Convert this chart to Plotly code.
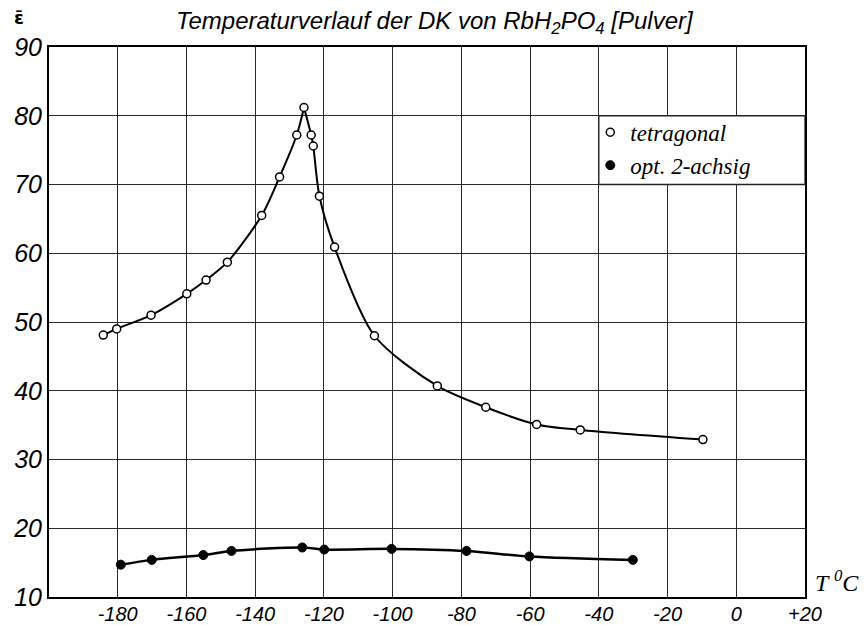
import plotly.graph_objects as go

# --- data ---
t_tetragonal = [-184.2, -180.3, -170.3, -159.9, -154.3, -148.1, -138.1, -132.9, -127.9,
                -125.8, -123.7, -123.1, -121.3, -116.9, -105.3, -87.0, -72.9, -58.1, -45.4, -9.7]
eps_tetragonal = [48.1, 49.0, 51.0, 54.1, 56.1, 58.7, 65.5, 71.1, 77.2,
                  81.2, 77.2, 75.6, 68.3, 60.9, 48.0, 40.7, 37.6, 35.1, 34.3, 32.9]

t_opt = [-179.1, -170.1, -155.1, -146.9, -126.3, -119.9, -100.3, -78.5, -60.2, -30.1]
eps_opt = [14.7, 15.4, 16.1, 16.7, 17.2, 16.9, 17.0, 16.7, 15.9, 15.4]

x_tickvals = [-180, -160, -140, -120, -100, -80, -60, -40, -20, 0, 20]
x_ticktext = ["-180", "-160", "-140", "-120", "-100", "-80", "-60", "-40", "-20", "0", "+20"]
y_tickvals = [10, 20, 30, 40, 50, 60, 70, 80, 90]
y_ticktext = ["10", "20", "30", "40", "50", "60", "70", "80", "90"]

peak = eps_tetragonal.index(max(eps_tetragonal))

fig = go.Figure()

# smooth curves (two branches meeting in a cusp at the peak)
fig.add_trace(go.Scatter(x=t_tetragonal[:peak + 1], y=eps_tetragonal[:peak + 1],
                         mode="lines", line=dict(color="black", width=2, shape="spline", smoothing=0.8),
                         showlegend=False, hoverinfo="skip"))
fig.add_trace(go.Scatter(x=t_tetragonal[peak:], y=eps_tetragonal[peak:],
                         mode="lines", line=dict(color="black", width=2, shape="spline", smoothing=0.8),
                         showlegend=False, hoverinfo="skip"))
fig.add_trace(go.Scatter(x=t_opt, y=eps_opt,
                         mode="lines", line=dict(color="black", width=2.5, shape="spline", smoothing=0.8),
                         showlegend=False, hoverinfo="skip"))

# markers
fig.add_trace(go.Scatter(x=t_tetragonal, y=eps_tetragonal, mode="markers", name="tetragonal",
                         marker=dict(symbol="circle", size=8, color="white",
                                     line=dict(color="black", width=1.5))))
fig.add_trace(go.Scatter(x=t_opt, y=eps_opt, mode="markers", name="opt. 2-achsig",
                         marker=dict(symbol="circle", size=9, color="black",
                                     line=dict(color="black", width=1))))

# white cell behind the legend
fig.add_shape(type="rect", xref="x", yref="y", x0=-40, x1=20, y0=70, y1=80,
              fillcolor="white", line=dict(color="#222", width=1.3), layer="between")

grid_col = "#2a2a2a"
fig.update_layout(
    width=864, height=625,
    margin=dict(l=49, r=59, t=47, b=28),
    paper_bgcolor="white", plot_bgcolor="white",
    font=dict(family="Liberation Sans", color="black"),
    showlegend=True,
    legend=dict(x=0.716, y=0.884, xanchor="left", yanchor="top",
                bgcolor="rgba(0,0,0,0)", borderwidth=0,
                font=dict(family="Liberation Serif", size=23, style="italic", color="black"),
                itemwidth=30, tracegroupgap=0),
)
fig.update_xaxes(range=[-200, 20], tickmode="array", tickvals=x_tickvals, ticktext=x_ticktext,
                 showgrid=True, gridcolor=grid_col, gridwidth=1.3,
                 showline=True, linecolor="black", linewidth=2, mirror=True,
                 zeroline=False, ticks="", automargin=False, ticklabelstandoff=-2,
                 tickfont=dict(family="Liberation Sans", size=20, color="black", style="italic"))
fig.update_yaxes(range=[10, 90], tickmode="array", tickvals=y_tickvals, ticktext=y_ticktext,
                 showgrid=True, gridcolor=grid_col, gridwidth=1.3,
                 showline=True, linecolor="black", linewidth=2, mirror=True,
                 zeroline=False, ticks="", automargin=False,
                 tickfont=dict(family="Liberation Sans", size=25, color="black", style="italic"))

fig.add_annotation(text="Temperaturverlauf der DK von RbH<sub>2</sub>PO<sub>4</sub> [Pulver]",
                   xref="paper", yref="paper", x=0.511, y=1.0, yshift=25,
                   xanchor="center", yanchor="middle", showarrow=False,
                   font=dict(family="Liberation Sans", size=24, style="italic"))
fig.add_annotation(text="ε̄", xref="paper", yref="paper", x=-0.04, y=1.0, yshift=30,
                   xanchor="center", yanchor="middle", showarrow=False,
                   font=dict(family="DejaVu Sans", size=18, weight="bold"))
fig.add_annotation(text="T <sup>0</sup>C", xref="paper", yref="paper", x=1.0, y=0.0, xshift=8, yshift=16,
                   xanchor="left", yanchor="middle", showarrow=False,
                   font=dict(family="Liberation Serif", size=24, style="italic"))

fig.write_html("out.html")
